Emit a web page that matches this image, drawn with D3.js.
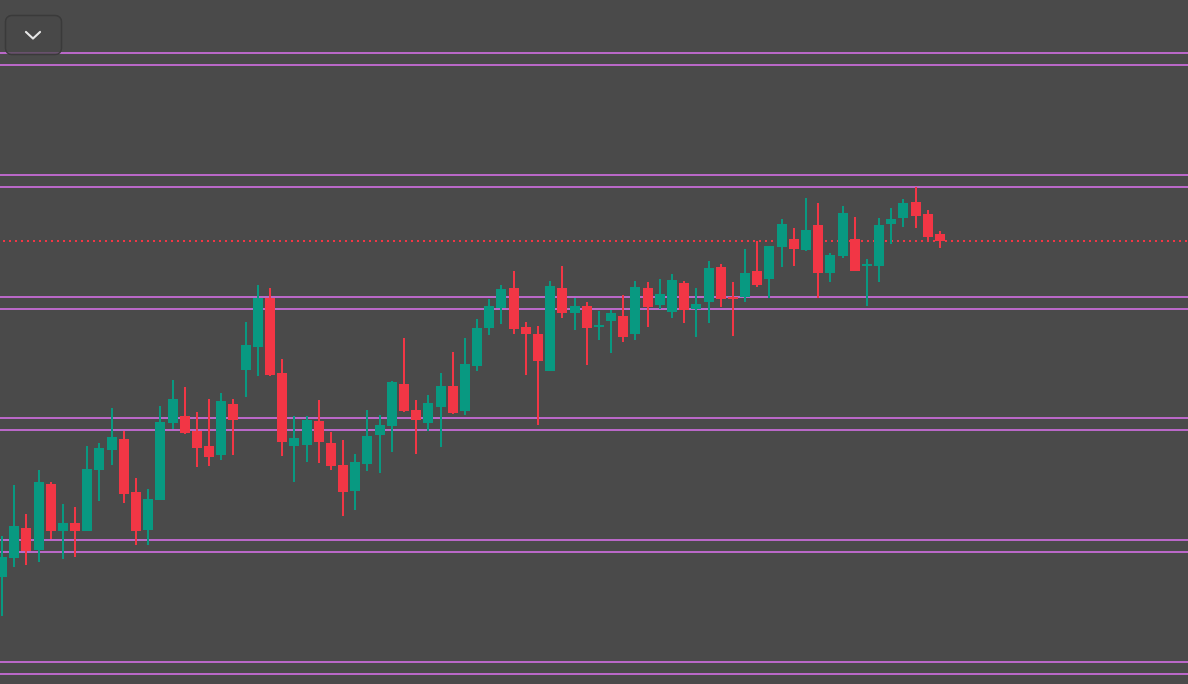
<!DOCTYPE html>
<html>
<head>
<meta charset="utf-8">
<script src="https://cdn.jsdelivr.net/npm/d3@7"></script>
<style>
  html, body { margin: 0; padding: 0; background: #4a4a4a; overflow: hidden; }
  svg { display: block; }
</style>
</head>
<body>
<svg id="chart" width="1188" height="684"></svg>
<script>
// OHLC series (price units), one entry per bar
const opens  = [107.3,126.3,156,134.3,200,153.3,161,153.3,214.3,234.3,245,192,154.3,184,261.3,268,253,238,229,280,
                314,337,386,311,238,239,263,241,219,193,220,249,258,300,274,261,277,298,273,318,
                356,376,396,357,350,313,396,371,378,357,363,368,350,396,379,372,401,375,382,417,
                387,387,413,405,437,445,434,459,411,428,445,418,418,460,466,482,470,450];
const highs  = [148,199,170,214,202,180,177,238,241,276,253,206,195,278,304,297,272,285,291,285,
                362,399,396,325,268,268,284,252,244,230,274,269,303,346,284,289,311,332,346,365,
                385,399,413,362,358,403,418,386,382,373,374,389,403,402,405,410,403,396,423,420,
                402,435,443,438,465,456,486,481,431,478,467,425,466,476,485,497,474,453];
const lows   = [68,117,119,122,145,125,127,153,183,219,181,139,139,184,255,250,217,218,224,229,
                287,308,308,228,202,222,221,214,168,174,213,211,232,272,230,253,237,270,269,313,
                349,360,350,309,259,313,366,354,319,344,331,342,344,357,375,366,361,347,361,377,
                348,382,397,386,417,418,433,386,402,426,413,378,402,440,457,456,444,436];
const closes = [127,158,133.3,202,153.3,161,153.3,215,236,247,190.3,153.3,185,262,285,251,236,227,283,264,
                339,386,309,242,246,264,242,218,192,222,248,259,302,273,264,281,298,271,320,356,
                378,395,355,350,323,398,371,378,356,359,371,347,397,377,390,404,374,380,416,385,
                385,411,399,438,460,435,454,411,429,471,413,420,459,465,481,468,447,443];
// horizontal level pairs (price units)
const levels = [631, 619, 509, 497, 387, 375, 266, 254, 144, 132, 22, 10];
const priceDomain = [0, 684];

const W = 1188, H = 684;
const colors = { bg: "#4a4a4a", up: "#089981", down: "#f23645", level: "#ba68c8", last: "#f23645" };

const svg = d3.select("#chart");
svg.append("rect").attr("width", W).attr("height", H).attr("fill", colors.bg);

const n = opens.length;
const bars = d3.range(n).map(i => ({ i, o: opens[i], h: highs[i], l: lows[i], c: closes[i] }));

const x = d3.scaleLinear().domain([0, n - 1]).range([2, 940]);
const y = d3.scaleLinear().domain(priceDomain).range([H, 0]);

// level lines
svg.append("g").selectAll("line").data(levels).join("line")
  .attr("x1", 0).attr("x2", W)
  .attr("y1", d => y(d)).attr("y2", d => y(d))
  .attr("stroke", colors.level).attr("stroke-width", 2);

// last price dotted line
const last = closes[n - 1];
svg.append("line")
  .attr("x1", 3).attr("x2", W)
  .attr("y1", y(last)).attr("y2", y(last))
  .attr("stroke", colors.last).attr("stroke-width", 2)
  .attr("stroke-dasharray", "2,4");

// candles
const bodyW = 10, wickW = 2;
const g = svg.append("g");
const cg = g.selectAll("g.candle").data(bars).join("g").attr("class", "candle");
cg.append("rect")
  .attr("x", d => Math.round(x(d.i)) - wickW / 2)
  .attr("width", wickW)
  .attr("y", d => Math.round(y(d.h)))
  .attr("height", d => Math.max(1, Math.round(y(d.l)) - Math.round(y(d.h))))
  .attr("fill", d => d.c >= d.o ? colors.up : colors.down);
cg.append("rect")
  .attr("x", d => Math.round(x(d.i)) - bodyW / 2)
  .attr("width", bodyW)
  .attr("y", d => Math.round(y(Math.max(d.o, d.c))))
  .attr("height", d => Math.max(2, Math.round(y(Math.min(d.o, d.c))) - Math.round(y(Math.max(d.o, d.c)))))
  .attr("fill", d => d.c >= d.o ? colors.up : colors.down);

// collapse button
const btn = svg.append("g");
btn.append("rect")
  .attr("x", 5.5).attr("y", 15.5).attr("width", 56).attr("height", 39).attr("rx", 6)
  .attr("fill", "rgba(72,72,72,0.72)")
  .attr("stroke", "#3a3a3a").attr("stroke-width", 1.5);
btn.append("path")
  .attr("d", "M26,32 L33,38.5 L40,32")
  .attr("fill", "none").attr("stroke", "#e6e6e6").attr("stroke-width", 2.2)
  .attr("stroke-linecap", "round").attr("stroke-linejoin", "round");
</script>
</body>
</html>
